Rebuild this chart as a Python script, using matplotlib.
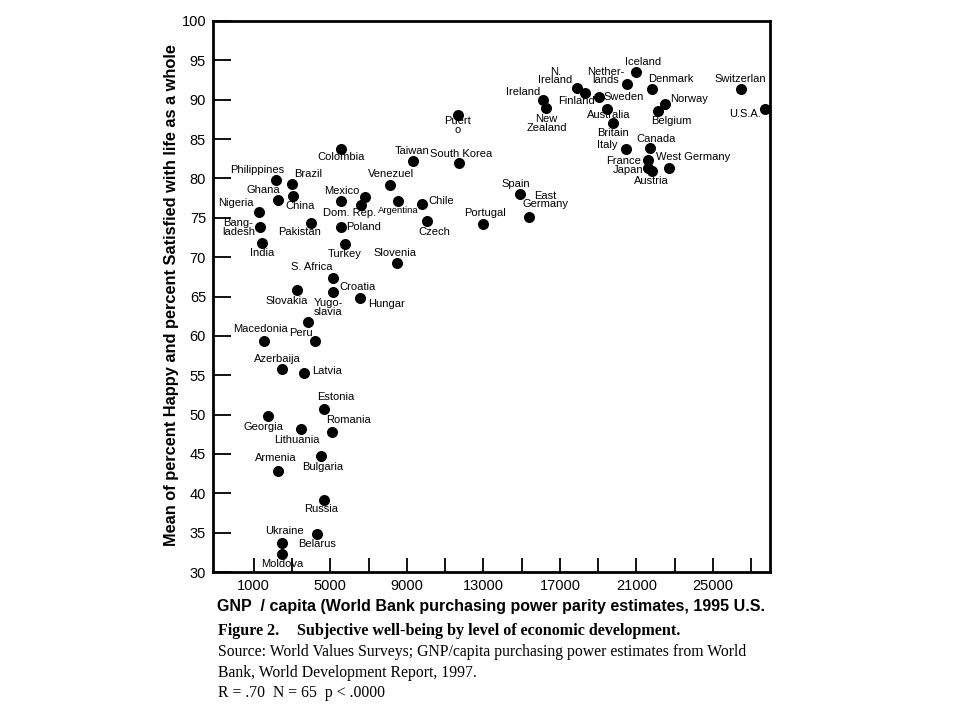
import matplotlib
matplotlib.use("Agg")
import matplotlib.pyplot as plt

# GNP per capita (1995 US$, PPP) and subjective well-being (% happy + % satisfied, mean)
countries = ["Iceland", "Nether-\nlands", "Denmark", "N.\nIreland", "Finland", "Sweden",
             "Ireland", "New\nZealand", "Australia", "Britain", "Norway", "Belgium",
             "Switzerlan", "U.S.A.", "Puert\no", "South Korea", "Canada", "Italy",
             "France", "Japan", "Austria", "West Germany", "Spain", "East\nGermany",
             "Portugal", "Colombia", "Taiwan", "Philippines", "Brazil", "Venezuel",
             "Ghana", "China", "Mexico", "", "Dom. Rep.", "Argentina", "Chile",
             "Nigeria", "Czech", "Bang-\nladesh", "Pakistan", "Poland", "India",
             "Turkey", "Slovenia", "S. Africa", "Croatia", "Slovakia", "Yugo-\nslavia",
             "Hungar", "Macedonia", "Peru", "Azerbaija", "Latvia", "Estonia",
             "Georgia", "Lithuania", "Romania", "Bulgaria", "Armenia", "Russia",
             "Belarus", "Ukraine", "Moldova"]
gnp = [21000, 20500, 21800, 17900, 18300, 19050,
       16100, 16250, 19450, 19750, 22500, 22150,
       26450, 27700, 11650, 11750, 21700, 20450,
       21600, 21600, 21800, 22700, 14900, 15400,
       13000, 5550, 9300, 2150, 3000, 8100,
       2250, 3050, 5550, 6800, 6600, 8550, 9800,
       1300, 10050, 1350, 4000, 5550, 1450,
       5750, 8500, 5150, 5150, 3250, 3850,
       6550, 1550, 4200, 2450, 3600, 4650,
       1750, 3450, 5100, 4500, 2250, 4650,
       4300, 2450, 2450]
swb = [93.5, 92.0, 91.3, 91.5, 90.9, 90.4,
       90.0, 88.9, 88.8, 87.0, 89.4, 88.6,
       91.3, 88.8, 88.1, 82.0, 83.9, 83.8,
       82.4, 81.3, 80.9, 81.3, 78.0, 75.1,
       74.2, 83.7, 82.2, 79.8, 79.3, 79.2,
       77.3, 77.8, 77.1, 77.7, 76.6, 77.1, 76.7,
       75.7, 74.6, 73.8, 74.4, 73.8, 71.8,
       71.7, 69.2, 67.3, 65.6, 65.8, 61.8,
       64.8, 59.3, 59.3, 55.8, 55.3, 50.7,
       49.8, 48.2, 47.8, 44.7, 42.8, 39.1,
       34.8, 33.7, 32.3]

x_ticks = list(range(1000, 28000, 2000))
x_ticklabels = [str(v) if (v - 1000) % 4000 == 0 else "" for v in x_ticks]
y_ticks = list(range(30, 101, 5))

# label placement: offset of label centre from the dot, in pixels (right, down)
label_offset = {
    "Iceland": (7, -10), "Nether-\nlands": (-21, -8), "Denmark": (19, -10),
    "N.\nIreland": (-22, -12), "Finland": (-8, 8), "Sweden": (25, 0),
    "Ireland": (-20, -8), "New\nZealand": (1, 15), "Australia": (2, 6),
    "Britain": (0, 10), "Norway": (24, -5), "Belgium": (13, 10),
    "Switzerlan": (0, -10), "U.S.A.": (-20, 5), "Puert\no": (0, 11),
    "South Korea": (2, -9), "Canada": (6, -9), "Italy": (-19, -4),
    "France": (-24, 1), "Japan": (-20, 2), "Austria": (0, 10),
    "West Germany": (24, -11), "Spain": (-4, -10), "East\nGermany": (16, -17),
    "Portugal": (2, -11), "Colombia": (0, 8), "Taiwan": (0, -10),
    "Philippines": (-19, -10), "Brazil": (16, -10), "Venezuel": (1, -11),
    "Ghana": (-14, -10), "China": (7, 10), "Mexico": (1, -10),
    "Dom. Rep.": (-11, 8), "Argentina": (0, 9), "Chile": (19, -3),
    "Nigeria": (-24, -9), "Czech": (7, 11), "Bang-\nladesh": (-22, 0),
    "Pakistan": (-12, 9), "Poland": (23, 0), "India": (0, 10),
    "Turkey": (0, 10), "Slovenia": (-2, -10), "S. Africa": (-21, -11),
    "Croatia": (24, -5), "Slovakia": (-10, 11), "Yugo-\nslavia": (20, -14),
    "Hungar": (27, 6), "Macedonia": (-4, -12), "Peru": (-14, -8),
    "Azerbaija": (-4, -10), "Latvia": (24, -2), "Estonia": (12, -12),
    "Georgia": (-5, 11), "Lithuania": (-4, 11), "Romania": (16, -12),
    "Bulgaria": (2, 11), "Armenia": (-2, -13), "Russia": (-2, 9),
    "Belarus": (0, 10), "Ukraine": (3, -12), "Moldova": (1, 10),
}

plt.rcParams["font.family"] = ["Liberation Sans", "DejaVu Sans"]

fig = plt.figure(figsize=(9.6, 7.2), dpi=100)
ax = fig.add_axes([213 / 960, 1 - 572 / 720, 557 / 960, 551 / 720])

ax.scatter(gnp, swb, s=48, color="black", zorder=3)

for name, gx, gy in zip(countries, gnp, swb):
    if not name:
        continue
    dx, dy = label_offset[name]
    small = name == "Argentina"
    ax.annotate(name, (gx, gy), xytext=(dx, -dy), textcoords="offset pixels",
                ha="center", va="center", fontsize=6.8 if small else 8,
                linespacing=0.85)

ax.set_xlim(-1130, 27980)
ax.set_ylim(30, 100)
ax.set_xticks(x_ticks)
ax.set_xticklabels(x_ticklabels)
ax.set_yticks(y_ticks)
ax.tick_params(axis="x", direction="in", length=10, width=1.3, labelsize=10.5, pad=5)
ax.tick_params(axis="y", direction="in", length=13, width=1.3, labelsize=10.5, pad=5)
for sp in ax.spines.values():
    sp.set_linewidth(2)

fig.text(172 / 960, 1 - 295 / 720,
         "Mean of percent Happy and percent Satisfied with life as a whole",
         rotation=90, ha="center", va="center", fontsize=11.8, fontweight="bold")
fig.text(491 / 960, 1 - 607 / 720,
         "GNP  / capita (World Bank purchasing power parity estimates, 1995 U.S.",
         ha="center", va="center", fontsize=11.5, fontweight="bold")

serif = ["Liberation Serif", "DejaVu Serif"]
fig.text(218 / 960, 1 - 631 / 720, "Figure 2.", family=serif, fontsize=11.5,
         fontweight="bold", va="center")
fig.text(297 / 960, 1 - 631 / 720, "Subjective well-being by level of economic development.",
         family=serif, fontsize=11.6, fontweight="bold", va="center")
fig.text(218 / 960, 1 - 652 / 720,
         "Source: World Values Surveys; GNP/capita purchasing power estimates from World",
         family=serif, fontsize=11.3, va="center")
fig.text(218 / 960, 1 - 673 / 720, "Bank, World Development Report, 1997.",
         family=serif, fontsize=11.3, va="center")
fig.text(218 / 960, 1 - 693 / 720, "R = .70  N = 65  p < .0000",
         family=serif, fontsize=11.3, va="center")

fig.savefig("out.png", dpi=100)
